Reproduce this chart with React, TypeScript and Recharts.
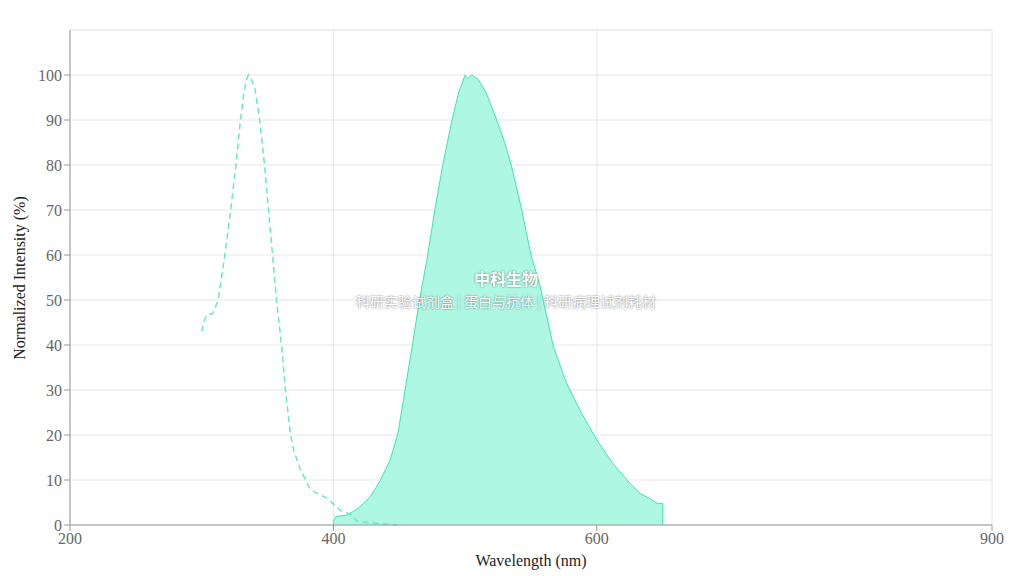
import React from 'react';
import { ComposedChart, Area, Line, XAxis, YAxis, CartesianGrid, ReferenceLine } from 'recharts';

const exWavelengths = [300, 302, 304, 308.5, 312.5, 317.6, 322, 326, 329.4, 332, 334, 335.5, 337, 340.4, 344, 347.7, 350.7, 353.8, 356.8, 360.6, 363.6, 367.4, 370, 374.6, 382, 386, 395, 405, 414, 418, 433, 448];
const exValues = [43, 45.5, 46.7, 47, 50, 60, 70, 80, 90, 96, 99, 100, 99.5, 97, 90, 80, 70, 60, 50, 40, 30, 20, 16.5, 12.5, 8.2, 7.3, 6, 3.3, 2.2, 0.8, 0.4, 0];

const emWavelengths = [400, 400, 402, 410, 415, 420, 428, 435, 443, 449, 453, 456, 460, 465, 471, 477, 483, 490, 495, 500, 502, 505, 510, 516, 524, 530, 535, 543, 550, 557, 567, 577, 587, 600, 612, 625, 633, 640, 646, 650, 650];
const emValues = [0, 0.8, 1.9, 2.2, 3, 4, 6.3, 9.6, 14.4, 20.4, 27.5, 33, 40, 49.5, 59, 70, 80, 90, 96, 100, 99.2, 100, 99, 96, 90, 85, 80, 70, 60, 53, 39.6, 31.5, 25.6, 18.9, 13.7, 9.3, 7, 5.9, 4.8, 4.8, 0];

const xTicks = [200, 400, 600, 900];
const yTicks = [0, 10, 20, 30, 40, 50, 60, 70, 80, 90, 100];

const excitation = exWavelengths.map((x, i) => ({ x, ex: exValues[i] }));
const emission = emWavelengths.map((x, i) => ({ x, em: emValues[i] }));

const serif = '"Liberation Serif", "Times New Roman", serif';
const cjk = '"Noto Sans CJK SC", sans-serif';

export default function App() {
  return (
    <div style={{ position: 'relative', width: 1012, height: 576 }}>
      <style>{`body{margin:0}`}</style>
      <ComposedChart width={1012} height={576} margin={{ top: 30, right: 20, bottom: 0, left: 0 }}>
        <CartesianGrid stroke="#e6e6e6" />
        <ReferenceLine y={110} stroke="#e6e6e6" />
        <XAxis
          type="number"
          dataKey="x"
          domain={[200, 900]}
          ticks={xTicks}
          height={51}
          stroke="#999"
          tick={{ fill: '#666', fontSize: 16, fontFamily: serif }}
          allowDuplicatedCategory={false}
        />
        <YAxis
          type="number"
          domain={[0, 110]}
          ticks={yTicks}
          width={70}
          stroke="#999"
          tick={{ fill: '#666', fontSize: 16, fontFamily: serif }}
        />
        <Area
          data={emission}
          dataKey="em"
          type="linear"
          stroke="#3fe2b4"
          strokeWidth={1}
          fill="#aef8e3"
          fillOpacity={1}
          isAnimationActive={false}
          dot={false}
          activeDot={false}
        />
        <Line
          data={excitation}
          dataKey="ex"
          type="linear"
          stroke="#6ae6c8"
          strokeWidth={1.5}
          strokeDasharray="6 4"
          isAnimationActive={false}
          dot={false}
          activeDot={false}
        />
      </ComposedChart>
      <svg width={1012} height={576} style={{ position: 'absolute', left: 0, top: 0, pointerEvents: 'none' }}>
        <text x={531} y={566} textAnchor="middle" fontFamily={serif} fontSize={16} fill="#222">Wavelength (nm)</text>
        <text x={25} y={278} textAnchor="middle" fontFamily={serif} fontSize={16} fill="#222" transform="rotate(-90 25 278)">Normalized Intensity (%)</text>
      </svg>
      <div style={{ position: 'absolute', left: 306, width: 400, top: 268, textAlign: 'center', color: '#fff', fontFamily: cjk, fontWeight: 700, fontSize: 16, lineHeight: '20px', textShadow: '0 0 2px rgba(0,0,0,0.6)' }}>中科生物</div>
      <div style={{ position: 'absolute', left: 256, width: 500, top: 292, textAlign: 'center', color: '#fff', fontFamily: cjk, fontSize: 14, lineHeight: '18px', whiteSpace: 'nowrap', textShadow: '0 0 2px rgba(0,0,0,0.6)' }}>科研实验试剂盒 | 蛋白与抗体 | 科研病理试剂耗材</div>
    </div>
  );
}
